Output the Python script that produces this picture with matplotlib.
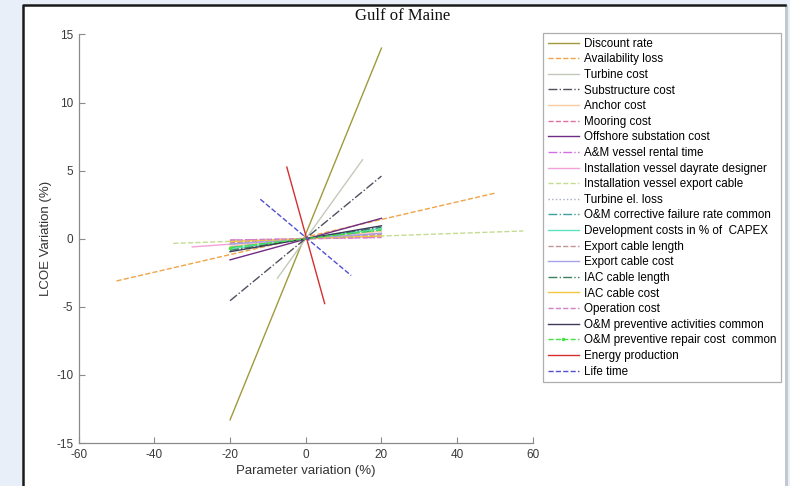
import matplotlib
matplotlib.use("Agg")
import matplotlib.pyplot as plt
from matplotlib.patches import Rectangle
from matplotlib.lines import Line2D

# Sensitivity of LCOE to each input parameter (end points of each line)
labels = [
    "Discount rate", "Availability loss", "Turbine cost", "Substructure cost",
    "Anchor cost", "Mooring cost", "Offshore substation cost",
    "A&M vessel rental time", "Installation vessel dayrate designer",
    "Installation vessel export cable", "Turbine el. loss",
    "O&M corrective failure rate common", "Development costs in % of  CAPEX",
    "Export cable length", "Export cable cost", "IAC cable length",
    "IAC cable cost", "Operation cost", "O&M preventive activities common",
    "O&M preventive repair cost  common", "Energy production", "Life time",
]
param_var = [
    [-20, 20], [-50, 50], [-7.5, 15], [-20, 20],
    [-20, 20], [-20, 20], [-20, 20],
    [-20, 20], [-30, 20],
    [-35, 57.5], [-20, 20],
    [-20, 20], [-20, 20],
    [-20, 20], [-20, 20], [-20, 20],
    [-20, 20], [-20, 20], [-20, 20],
    [-20, 20], [-5, 5], [-12, 12],
]
lcoe_var = [
    [-13.3, 14.0], [-3.1, 3.35], [-2.9, 5.8], [-4.55, 4.6],
    [-0.55, 0.55], [-0.3, 0.3], [-1.55, 1.5],
    [-0.1, 0.1], [-0.6, 0.4],
    [-0.34, 0.57], [-0.8, 0.8],
    [-0.65, 0.65], [-0.75, 0.75],
    [-0.3, 0.3], [-0.4, 0.4], [-0.85, 0.85],
    [-0.2, 0.2], [-0.1, 0.1], [-0.95, 0.95],
    [-0.65, 0.65], [5.26, -4.76], [2.9, -2.7],
]
colors = [
    "#a09a3c", "#f0a448", "#c2cabc", "#50505e",
    "#f6cc9c", "#e0709c", "#702c84",
    "#d46ee4", "#f2a2d6", "#c4dc92", "#a8adc6",
    "#3fa0a0", "#5ee2c2", "#c49494", "#a6a2e6", "#3e805e",
    "#f2c640", "#d480c4", "#3c3c5a",
    "#44e044", "#d43030", "#5050d0",
]
styles = [
    "-", "--", "-", "-.",
    "-", "--", "-",
    "-.", "-", "--", ":",
    "-.", "-", "--", "-", "-.",
    "-", "--", "-",
    "--", "-", "--",
]

plt.rcParams["font.family"] = ["Liberation Sans", "DejaVu Sans"]
plt.rcParams["axes.unicode_minus"] = False

fig = plt.figure(figsize=(7.9, 4.86), dpi=100)
fig.patch.set_facecolor("#e9eff8")

# white window panel behind the chart
panel = Rectangle((23 / 790, -0.05), (785 - 23) / 790, 1 - 5 / 486 + 0.05,
                  transform=fig.transFigure, facecolor="white",
                  edgecolor="none", zorder=-10)
fig.patches.append(panel)
edge = Rectangle((785 / 790, -0.05), 2.5 / 790, 1.0 - 5 / 486 + 0.05,
                 transform=fig.transFigure, facecolor="#c4c8d0",
                 edgecolor="none", zorder=-9)
fig.patches.append(edge)
fig.lines.append(Line2D([23 / 790, 23 / 790, 785 / 790],
                        [-0.05, 1 - 5 / 486, 1 - 5 / 486],
                        transform=fig.transFigure, color="#1a1a1a",
                        linewidth=1.8, zorder=-8))

ax = fig.add_axes([78.7 / 790, 1 - 443 / 486, (532.8 - 78.7) / 790, (443 - 34.5) / 486])
ax.set_facecolor("white")

for lab, xs, ys, c, ls in zip(labels, param_var, lcoe_var, colors, styles):
    kw = {}
    if lab.startswith("O&M preventive repair"):
        kw = dict(marker=".", markersize=3, markevery=[0])
    ax.plot(xs, ys, color=c, linestyle=ls, linewidth=1.0, label=lab, **kw)

ax.set_xlim(-60, 60)
ax.set_ylim(-15, 15)
ax.set_xticks(range(-60, 61, 20))
ax.set_yticks(range(-15, 16, 5))
for s in ("top", "right"):
    ax.spines[s].set_visible(False)
for s in ("left", "bottom"):
    ax.spines[s].set_color("#8a8a8a")
    ax.spines[s].set_linewidth(0.9)
ax.tick_params(direction="in", length=4, width=0.8, colors="#8a8a8a",
               labelcolor="#3a3a3a", labelsize=8.5, pad=4)

ax.set_xlabel("Parameter variation (%)", fontsize=9.5, color="#333333", labelpad=3)
ax.set_ylabel("LCOE Variation (%)", fontsize=9.5, color="#333333", labelpad=3)

fig.text(0.51, 1 - 16 / 486, "Gulf of Maine", ha="center", va="center",
         fontsize=12, family="Liberation Serif", color="#111111")

leg = fig.legend(loc="upper left", bbox_to_anchor=(543 / 790, 1 - 33 / 486),
                 fontsize=8.4, frameon=True, fancybox=False, handlelength=2.7,
                 handletextpad=0.4, labelspacing=0.31, borderpad=0.4,
                 borderaxespad=0.0)
leg.get_frame().set_edgecolor("#9a9a9a")
leg.get_frame().set_linewidth(0.9)

fig.savefig("out.png", dpi=100)
